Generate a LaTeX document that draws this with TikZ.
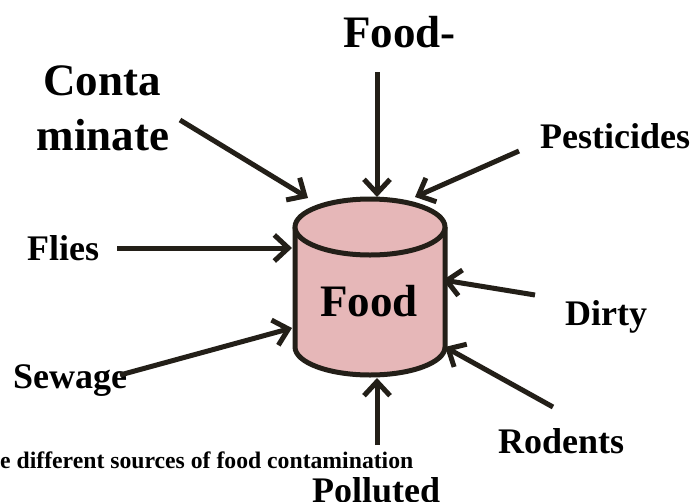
\documentclass[tikz,border=0pt]{standalone}
\usepackage{fontspec}
\setmainfont{Liberation Serif}
\usetikzlibrary{arrows.meta}
\definecolor{drumc}{RGB}{230,183,184}
\definecolor{inkc}{RGB}{35,31,24}

\begin{document}
\begin{tikzpicture}[x=1pt,y=-1pt,
  lbig/.style={inner sep=0pt,font=\fontsize{45}{54}\selectfont\bfseries},
  lmid/.style={inner sep=0pt,font=\fontsize{36}{43}\selectfont\bfseries},
  src/.style={draw=inkc,line width=5pt,-{Straight Barb[length=14pt,width=26pt]}}]
\useasboundingbox (0,0) rectangle (696,501);

%================= the drum =================
\filldraw[fill=drumc,draw=inkc,line width=5pt,line join=round]
  (295,227) -- (295,347) arc[start angle=180,end angle=0,x radius=75,y radius=28] -- (445,227);
\filldraw[fill=drumc,draw=inkc,line width=5pt] (370,227) ellipse[x radius=75,y radius=28];
\node[lbig,anchor=base] (food) at (369,316) {Food};

%================= the sources =================
\node[lbig,anchor=base west] (foodhy) at (343,47) {Food-};
\node[lbig,anchor=base] (conta) at (102,95) {Conta};
\node[lbig,anchor=base] (minate) at (103,150) {minate};
\node[lmid,anchor=base west] (pest) at (540,148) {Pesticides};
\node[lmid,anchor=base west] (flies) at (27,260) {Flies};
\node[lmid,anchor=base west] (dirty) at (565,325) {Dirty};
\node[lmid,anchor=base west] (sewage) at (13,388) {Sewage};
\node[lmid,anchor=base west] (rodents) at (498,453) {Rodents};
\node[lmid,anchor=base west] (polluted) at (312,502) {Polluted};

% caption, cut at the left edge
\node[inner sep=0pt,anchor=base west,font=\fontsize{23.7}{28}\selectfont\bfseries] (caption)
  at (0,468) {e different sources of food contamination};

% --- where each arrow starts and ends
\coordinate (foodhy-a) at (377,72);   \coordinate (foodhy-b) at (377,197);
\coordinate (conta-a) at (180,120);   \coordinate (conta-b) at (308,198);
\coordinate (pest-a) at (519,151);    \coordinate (pest-b) at (415,197);
\coordinate (flies-a) at (117,248);   \coordinate (flies-b) at (292,248);
\coordinate (dirty-a) at (535,295);   \coordinate (dirty-b) at (443,280);
\coordinate (sewage-a) at (120,375);  \coordinate (sewage-b) at (292,328);
\coordinate (rodents-a) at (553,407); \coordinate (rodents-b) at (445,347);
\coordinate (polluted-a) at (377,445); \coordinate (polluted-b) at (377,378);

\foreach \s in {foodhy,conta,pest,flies,dirty,sewage,rodents,polluted}{
  \draw[src] (\s-a) -- (\s-b);}
\end{tikzpicture}
\end{document}
